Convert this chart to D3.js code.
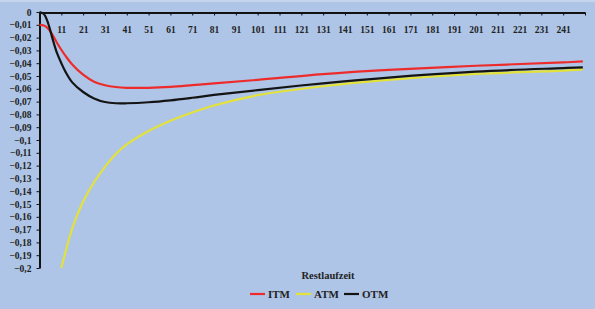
<!DOCTYPE html>
<html>
<head>
<meta charset="utf-8">
<script src="https://cdn.jsdelivr.net/npm/d3@7"></script>
<style>
  body { margin: 0; background: #aec5e7; }
  svg { display: block; }
</style>
</head>
<body>
<svg id="chart"></svg>
<script>
// Restlaufzeit (x) and the three series
const restlaufzeit = [1, 3, 5, 7, 9, 11, 13, 16, 21, 26, 31, 36, 41, 51, 61, 71, 81, 101, 131, 161, 201, 241, 250];
const itm = [-0.010, -0.0105, -0.013, -0.018, -0.024, -0.0295, -0.0345, -0.041, -0.049, -0.0545, -0.0572, -0.0586, -0.0592, -0.0592, -0.0585, -0.0572, -0.0558, -0.053, -0.0485, -0.0452, -0.042, -0.0394, -0.0386];
const atm = [null, null, null, null, null, -0.2, -0.187, -0.169, -0.148, -0.133, -0.121, -0.111, -0.1035, -0.093, -0.085, -0.0785, -0.073, -0.065, -0.058, -0.053, -0.0484, -0.0458, -0.0448];
const otm = [0, -0.0015, -0.009, -0.021, -0.032, -0.040, -0.047, -0.055, -0.0625, -0.0675, -0.0703, -0.0713, -0.0713, -0.0705, -0.069, -0.067, -0.0648, -0.061, -0.0557, -0.0512, -0.0466, -0.0438, -0.0432];
const xTicks = d3.range(1, 252, 10);
const yTicks = d3.range(0, 21).map(i => -i / 100);
const serien = [
  { name: 'ITM', values: itm, color: '#ee2b2b' },
  { name: 'ATM', values: atm, color: '#e3e23a' },
  { name: 'OTM', values: otm, color: '#141414' }
];

const [width, height] = [595, 309];
const svg = d3.select('#chart').attr('width', width).attr('height', height);
const font = '"Liberation Serif", "Times New Roman", serif';

svg.append('rect').attr('width', width).attr('height', 2).attr('fill', '#c6d5ee');

let x = d3.scaleLinear().domain([1, 251]).range([39.5, 585]);
let y = d3.scaleLinear().domain([-0.2, 0]).range([268, 12]);

// y-Achse
let yAxis = svg.append('g')
  .attr('transform', 'translate(39.5,0)')
  .call(d3.axisLeft(y).tickValues(yTicks).tickSize(3).tickSizeOuter(0)
    .tickFormat(d => d === 0 ? '0' : '\u2212' + d3.format('.2~f')(-d).replace('.', ',')));
yAxis.select('.domain').attr('stroke', '#111').attr('stroke-width', 2);
yAxis.selectAll('.tick line').attr('stroke', '#111');
yAxis.selectAll('.tick text')
  .attr('x', -8)
  .attr('font-family', font).attr('font-weight', 'bold').attr('font-size', 9.5).attr('fill', '#222');

// x-Achse oben
let xAxis = svg.append('g')
  .attr('transform', 'translate(0,12.5)')
  .call(d3.axisBottom(x).tickValues(xTicks).tickSize(3).tickSizeOuter(0)
    .tickFormat(d => (d === 1 || d === 251) ? '' : d));
xAxis.select('.domain').attr('stroke', '#111').attr('stroke-width', 2);
xAxis.selectAll('.tick line').attr('stroke', '#111');
xAxis.selectAll('.tick text')
  .attr('y', 14)
  .attr('font-family', font).attr('font-weight', 'bold').attr('font-size', 9.5).attr('fill', '#222');

// Linien
let line = d3.line()
  .defined(d => d[1] !== null)
  .x(d => x(d[0]))
  .y(d => y(d[1]))
  .curve(d3.curveCatmullRom.alpha(0.5));

svg.append('g')
  .selectAll('path')
  .data(serien)
  .enter()
  .append('path')
  .attr('fill', 'none')
  .attr('stroke', d => d.color)
  .attr('stroke-width', 2.2)
  .attr('stroke-linejoin', 'round')
  .attr('d', d => line(restlaufzeit.map((r, i) => [r, d.values[i]])));

// Achsentitel
svg.append('text')
  .attr('x', 328).attr('y', 279)
  .attr('text-anchor', 'middle')
  .attr('font-family', font).attr('font-weight', 'bold').attr('font-size', 10.5).attr('fill', '#222')
  .text('Restlaufzeit');

// Legende
const legendX = [250, 296, 344];
let legend = svg.append('g')
  .selectAll('g')
  .data(serien)
  .enter()
  .append('g')
  .attr('transform', (d, i) => 'translate(' + legendX[i] + ',294)');
legend.append('line')
  .attr('x1', 0).attr('x2', 15)
  .attr('stroke', d => d.color).attr('stroke-width', 2.2);
legend.append('text')
  .attr('x', 18).attr('y', 4)
  .attr('font-family', font).attr('font-weight', 'bold').attr('font-size', 11).attr('fill', '#222')
  .text(d => d.name);
</script>
</body>
</html>
